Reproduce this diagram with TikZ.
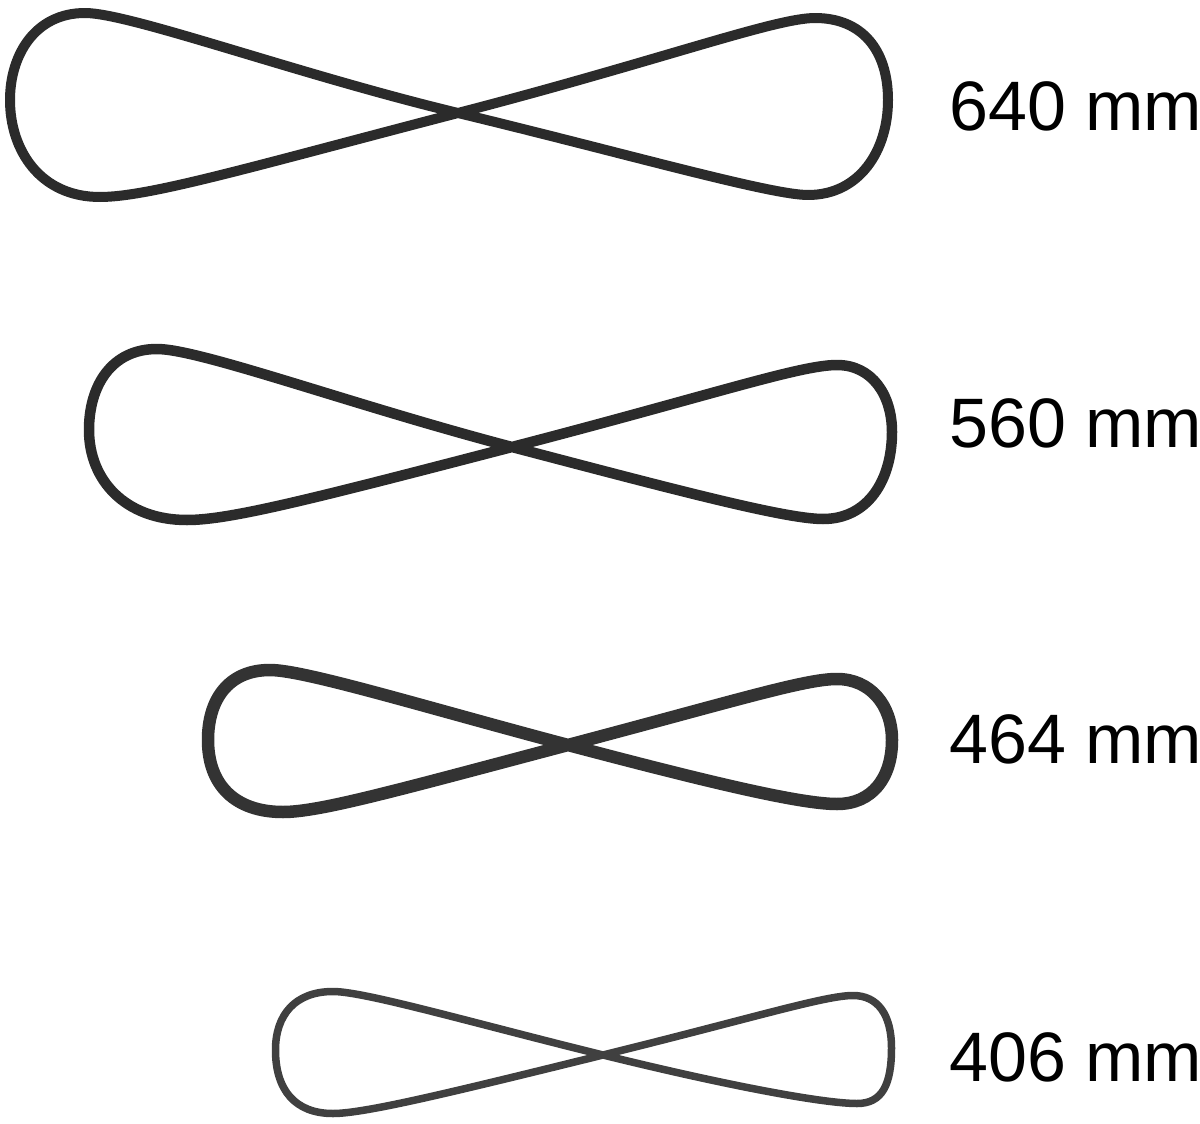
\documentclass[tikz,border=0pt]{standalone}
\usepackage{fontspec}
\setmainfont{Liberation Sans}
\usetikzlibrary{positioning}

\begin{document}
\begin{tikzpicture}
    [
    x=1pt, y=-1pt,
    band/.style={draw=black!83, line width=10pt, line join=round},
    lenlabel/.style={anchor=base west, inner sep=0pt, font=\fontsize{70}{84}\selectfont}
    ]
\useasboundingbox (0,0) rectangle (1200,1124);
% 640 mm
\draw[band] (458,113) .. controls (660,60.5) and (775,18) .. (815,18)
    .. controls (862,18) and (888,50) .. (888,100)
    .. controls (888,150) and (860,195) .. (808,195)
    .. controls (770,195) and (620,152) .. (458,113)
    .. controls (296,74) and (130,13) .. (85,13)
    .. controls (35,13) and (10,55) .. (10,100)
    .. controls (10,150) and (40,197) .. (100,197)
    .. controls (150,197) and (256,165.5) .. cycle;
% 560 mm
\draw[band, line width=10.5pt] (512,447) .. controls (712,395) and (800,365) .. (837,365)
    .. controls (872,365) and (892,395) .. (892,432)
    .. controls (892,480) and (868,519) .. (823,519)
    .. controls (785,519) and (672,489) .. (512,447)
    .. controls (352,405) and (200,349) .. (157,349)
    .. controls (112,349) and (89,385) .. (89,430)
    .. controls (89,480) and (125,520) .. (187,520)
    .. controls (230,520) and (312,499) .. cycle;
% 464 mm
\draw[band, line width=12.5pt, draw=black!80] (568,745) .. controls (738,700) and (805,679) .. (837,679)
    .. controls (870,679) and (892,705) .. (892,740)
    .. controls (892,778) and (872,804) .. (837,804)
    .. controls (800,804) and (708,782) .. (568,745)
    .. controls (428,708) and (305,670) .. (270,670)
    .. controls (228,670) and (208,700) .. (208,740)
    .. controls (208,785) and (235,812) .. (283,812)
    .. controls (320,812) and (398,790) .. cycle;
% 406 mm
\draw[band, line width=7.5pt, draw=black!75] (603,1055) .. controls (753,1018) and (825,995.5) .. (853,995.5)
    .. controls (878,995.5) and (891.5,1015) .. (891.5,1048)
    .. controls (891.5,1085) and (882,1103.5) .. (857,1103.5)
    .. controls (825,1103.5) and (733,1087) .. (603,1055)
    .. controls (473,1023) and (365,991.5) .. (333,991.5)
    .. controls (295,991.5) and (275.5,1015) .. (275.5,1050)
    .. controls (275.5,1090) and (295,1113.5) .. (333,1113.5)
    .. controls (365,1113.5) and (453,1092) .. cycle;
% lengths
\node[lenlabel] (l640) at (949,130) {640 mm};
\node[lenlabel] (l560) at (949,447) {560 mm};
\node[lenlabel] (l464) at (949,763) {464 mm};
\node[lenlabel] (l406) at (949,1081) {406 mm};
\end{tikzpicture}
\end{document}
